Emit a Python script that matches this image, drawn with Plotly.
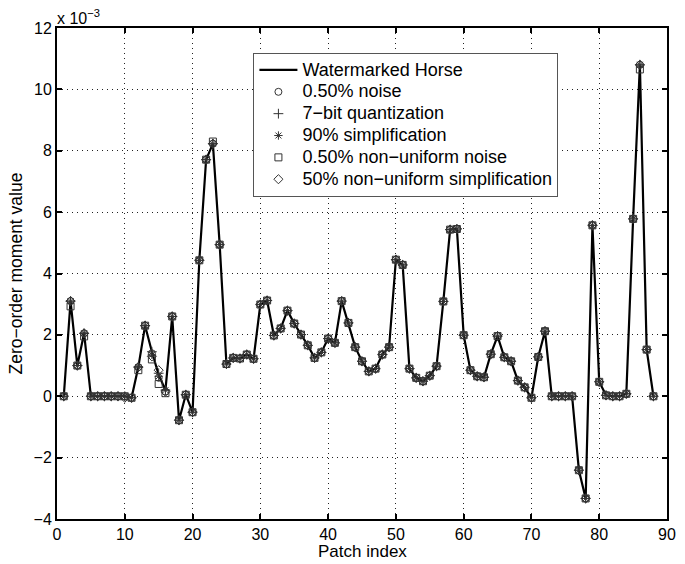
import plotly.graph_objects as go

patch_index = list(range(1, 89))

# Zero-order moment values (x 1e-3)
watermarked = [0, 3.1, 1.0, 2.05, 0, 0, 0, 0, 0, 0,
               -0.05, 0.95, 2.3, 1.45, 0.7, 0.2, 2.6, -0.78, 0.05, -0.52,
               4.43, 7.71, 8.23, 4.94, 1.05, 1.25, 1.23, 1.36, 1.22, 2.99,
               3.12, 1.98, 2.21, 2.79, 2.37, 2.01, 1.66, 1.25, 1.43, 1.88,
               1.74, 3.1, 2.39, 1.6, 1.14, 0.81, 0.9, 1.36, 1.6, 4.45,
               4.28, 0.9, 0.6, 0.49, 0.67, 0.98, 3.09, 5.43, 5.45, 1.99,
               0.85, 0.65, 0.62, 1.37, 1.96, 1.27, 1.14, 0.51, 0.29, -0.05,
               1.28, 2.12, 0, 0, 0, 0, -2.41, -3.33, 5.57, 0.47,
               0.03, 0, 0, 0.08, 5.78, 10.8, 1.52, 0]

noise = list(watermarked)
noise[13] = 1.4; noise[14] = 0.6; noise[15] = 0.15

quant = list(watermarked)
quant[14] = 0.75

simp = list(watermarked)
simp[13] = 1.35; simp[14] = 0.65

nonuni_noise = list(watermarked)
nonuni_noise[1] = 2.93; nonuni_noise[3] = 1.95; nonuni_noise[11] = 0.85
nonuni_noise[13] = 1.2; nonuni_noise[14] = 0.4; nonuni_noise[15] = 0.1
nonuni_noise[22] = 8.3; nonuni_noise[85] = 10.65

nonuni_simp = list(watermarked)
nonuni_simp[9] = -0.05; nonuni_simp[13] = 1.3; nonuni_simp[14] = 0.85
nonuni_simp[15] = 0.15

series_names = ["0.50% noise", "7\u2212bit quantization", "90% simplification",
                "0.50% non\u2212uniform noise", "50% non\u2212uniform simplification"]
series_values = [noise, quant, simp, nonuni_noise, nonuni_simp]
series_symbols = ["circle-open", "cross-thin-open", "asterisk-open", "square-open", "diamond-open"]

x_ticks = list(range(0, 91, 10))
y_ticks = list(range(-4, 13, 2))

FONT = "Liberation Sans, Arial, sans-serif"


def legend_label(s):
    return '<span style="font-size:18px">' + s + '</span>'


fig = go.Figure()
fig.add_trace(go.Scatter(
    x=patch_index, y=watermarked, mode="lines", name=legend_label("Watermarked Horse"),
    line=dict(color="black", width=2.2)))
for name, vals, sym in zip(series_names, series_values, series_symbols):
    fig.add_trace(go.Scatter(
        x=patch_index, y=vals, mode="markers", name=legend_label(name),
        marker=dict(symbol=sym, size=7, color="#333333",
                    line=dict(color="#333333", width=1))))

fig.update_layout(
    width=685, height=564,
    margin=dict(l=57, r=9, t=28, b=45),
    paper_bgcolor="white", plot_bgcolor="white",
    font=dict(family=FONT, size=16, color="black"),
    showlegend=True,
    legend=dict(x=0.322, y=0.949, xanchor="left", yanchor="top",
                bgcolor="white", bordercolor="#555555", borderwidth=1,
                font=dict(family=FONT, size=14.5, color="black"),
                itemwidth=38, tracegroupgap=0),
)
axis_common = dict(showline=True, linecolor="black", linewidth=2, mirror="ticks",
                   ticks="inside", ticklen=5, tickwidth=1.5, tickcolor="black",
                   showgrid=True, gridcolor="#222222", griddash="1px,4px", gridwidth=1,
                   zeroline=False, tickfont=dict(family=FONT, size=16))
fig.update_xaxes(range=[0, 90], tickvals=x_ticks, ticktext=[str(v) for v in x_ticks],
                 **axis_common)
fig.update_yaxes(range=[-4, 12], tickvals=y_ticks,
                 ticktext=[str(v).replace("-", "\u2212") for v in y_ticks],
                 title=dict(text="Zero\u2212order moment value", font=dict(size=17.5), standoff=6),
                 **axis_common)
fig.add_annotation(x=0.5, y=-0.066, xref="paper", yref="paper", xanchor="center", yanchor="middle",
                   text="Patch index", showarrow=False, font=dict(family=FONT, size=17))
fig.add_annotation(x=0, y=1, xref="paper", yref="paper", xanchor="left", yanchor="bottom",
                   text="x 10<sup>\u22123</sup>", showarrow=False,
                   font=dict(family=FONT, size=16), xshift=-2, yshift=-1)

fig.write_html("out.html", config={"displayModeBar": False},
               post_script="document.body.style.margin='0';document.body.style.padding='0';")
